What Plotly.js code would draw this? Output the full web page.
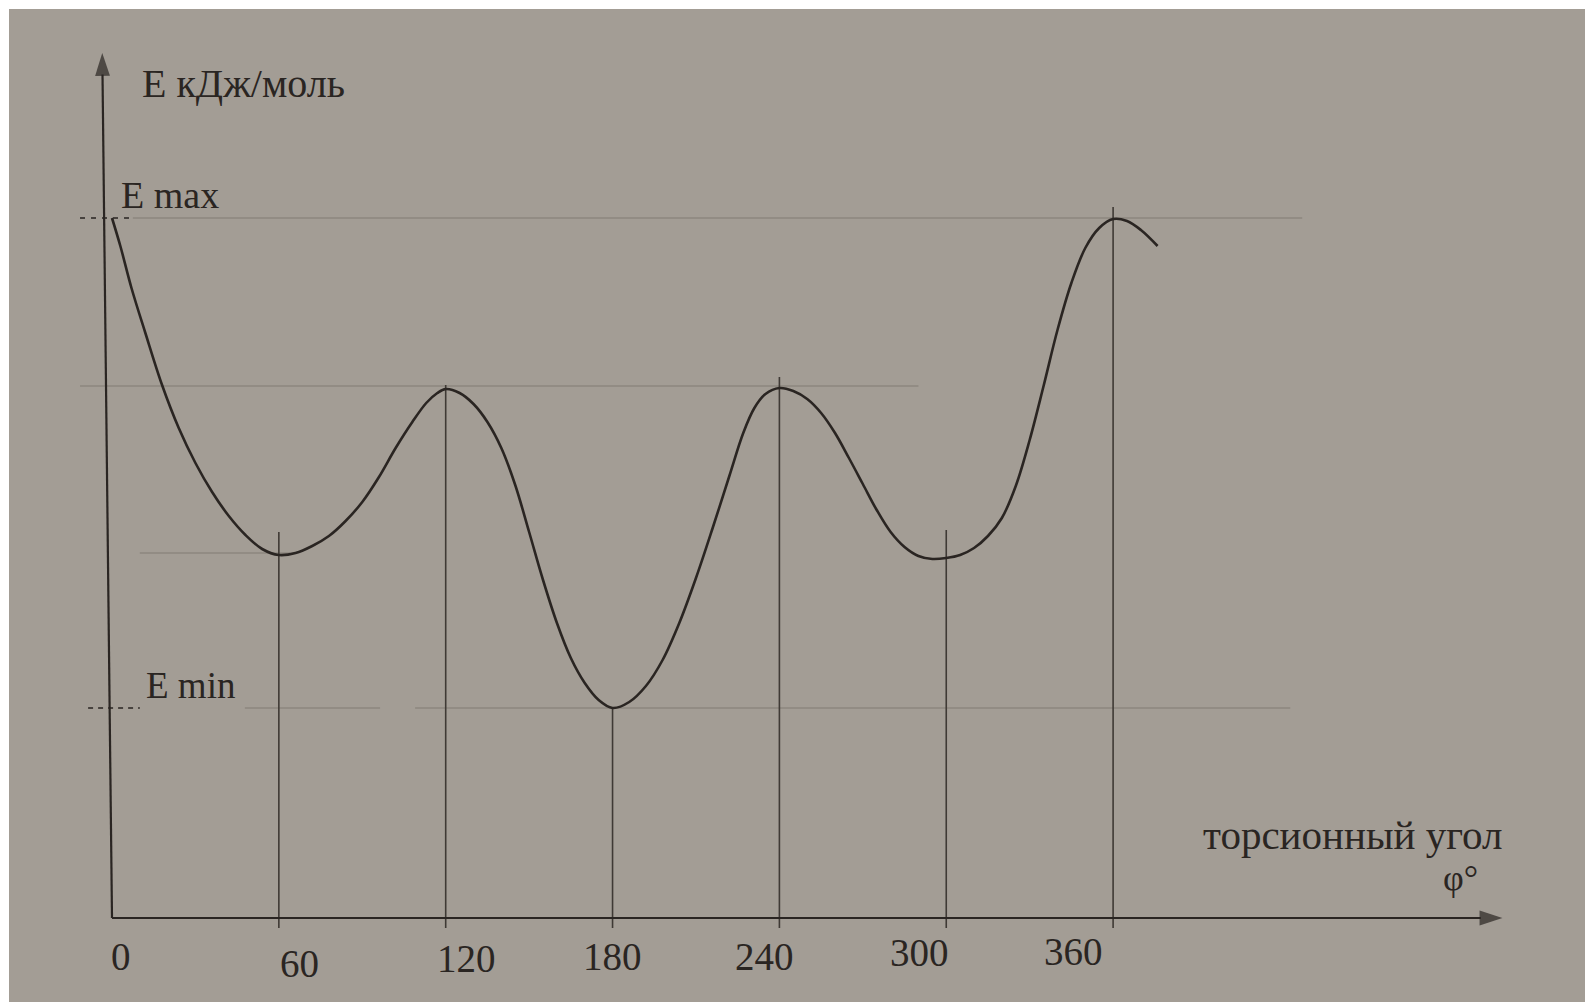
<!DOCTYPE html>
<html>
<head>
<meta charset="utf-8">
<script src="https://cdn.plot.ly/plotly-3.0.1.min.js"></script>
<style>html,body{margin:0;padding:0;background:#fff;}#chart{width:1585px;height:1002px;}</style>
</head>
<body>
<div id="chart"></div>
<script>
// ---- data (energy in arbitrary units) ----
const angleTicks = [0, 60, 120, 180, 240, 300, 360];
const tickLabels = ['0', '60', '120', '180', '240', '300', '360'];

const curveAngle = [0, 3, 7, 12, 18, 24, 30, 36, 42, 48, 54, 60,
  66, 72, 78, 84, 90, 96, 102, 108, 113, 117, 120,
  125, 130, 135, 140, 145, 150, 155, 160, 165, 170, 175, 180,
  186, 192, 198, 204, 210, 216, 222, 227, 231, 235, 240,
  245, 250, 255, 260, 265, 270, 275, 280, 285, 290, 295, 300,
  305, 310, 315, 320, 325, 330, 335, 340, 345, 350, 355, 360, 365, 370, 376];
const curveEnergy = [7.00, 6.72, 6.30, 5.85, 5.33, 4.90, 4.55, 4.26, 4.02, 3.83, 3.69, 3.63,
  3.65, 3.72, 3.82, 3.97, 4.16, 4.41, 4.70, 4.96, 5.15, 5.25, 5.29,
  5.25, 5.14, 4.96, 4.70, 4.33, 3.86, 3.38, 2.95, 2.60, 2.35, 2.18, 2.10,
  2.16, 2.32, 2.58, 2.95, 3.40, 3.90, 4.42, 4.85, 5.10, 5.24, 5.30,
  5.27, 5.19, 5.05, 4.85, 4.60, 4.34, 4.08, 3.86, 3.71, 3.62, 3.59, 3.60,
  3.63, 3.70, 3.82, 4.00, 4.32, 4.78, 5.32, 5.88, 6.35, 6.70, 6.90, 6.99, 6.97, 6.88, 6.72];

const guideAngles = [60, 120, 180, 240, 300, 360];
const guideTops = [3.86, 5.33, 2.10, 5.41, 3.88, 7.11];

const eMax = 7.00, eMin = 2.10, eMidMax = 5.32, eMidMin = 3.65;

// ---- styling ----
const ink = '#2a2522';
const pencil = '#3f3a35';
const faint = 'rgba(110,104,96,0.42)';
const serif = 'Liberation Serif, Times New Roman, serif';

const traces = [];

function hline(x0, x1, y, color, width, dash) {
  traces.push({x: [x0, x1], y: [y, y], mode: 'lines', hoverinfo: 'skip',
    line: {color: color, width: width, dash: dash || 'solid'}, showlegend: false});
}
// faint construction lines
hline(7.5, 428, eMax, faint, 1.3);
hline(-11.5, 290, eMidMax, faint, 1.3);
hline(10, 64, eMidMin, faint, 1.3);
hline(47.8, 96.4, eMin, faint, 1.3);
hline(109, 423.7, eMin, faint, 1.3);
// dashed marks at E max / E min
hline(-11.5, 7.5, eMax, ink, 1.6, '5px,6px');
hline(-8.6, 10, eMin, ink, 1.6, '5px,5px');

// vertical lines from the axis up to the curve extrema
guideAngles.forEach((a, i) => {
  traces.push({x: [a, a], y: [-0.1, guideTops[i]], mode: 'lines', hoverinfo: 'skip',
    line: {color: pencil, width: 1.6}, showlegend: false});
});

// axes with arrowheads
traces.push({x: [0, 500], y: [0, 0], mode: 'lines+markers', hoverinfo: 'skip', showlegend: false,
  line: {color: ink, width: 2.2},
  marker: {symbol: 'arrow', size: [0, 24], angleref: 'previous', color: ink, line: {width: 0}}});
traces.push({x: [0, -3.5], y: [0, 8.65], mode: 'lines+markers', hoverinfo: 'skip', showlegend: false,
  line: {color: ink, width: 2.2},
  marker: {symbol: 'arrow', size: [0, 24], angleref: 'previous', color: ink, line: {width: 0}}});

// energy curve
traces.push({x: curveAngle, y: curveEnergy, mode: 'lines', showlegend: false, hoverinfo: 'skip',
  line: {color: ink, width: 2.6, shape: 'spline', smoothing: 1}});

const tickLabelShift = [[9, 38], [21, 45], [21, 40], [0, 38], [-15, 38], [-27, 34], [-40, 33]];

const annotations = [
  {x: 10.0, y: 8.35, xref: 'x', yref: 'y', text: 'E кДж/моль', showarrow: false,
    xanchor: 'left', yanchor: 'middle', font: {family: serif, size: 40, color: ink}},
  {x: 2.6, y: 7.23, xref: 'x', yref: 'y', text: 'E max', showarrow: false,
    xanchor: 'left', yanchor: 'middle', font: {family: serif, size: 38, color: ink}},
  {x: 11.5, y: 2.33, xref: 'x', yref: 'y', text: 'E min', showarrow: false,
    xanchor: 'left', yanchor: 'middle', font: {family: serif, size: 37, color: ink}},
  {x: 500.6, y: 0.83, xref: 'x', yref: 'y', text: 'торсионный угол', showarrow: false,
    xanchor: 'right', yanchor: 'middle', font: {family: serif, size: 41, color: ink}},
  {x: 492, y: 0.40, xref: 'x', yref: 'y', text: 'φ°', showarrow: false,
    xanchor: 'right', yanchor: 'middle', font: {family: serif, size: 36, color: ink}}
];
angleTicks.forEach((a, i) => {
  annotations.push({x: a, y: 0, xref: 'x', yref: 'y', text: tickLabels[i], showarrow: false,
    xanchor: 'center', yanchor: 'middle', xshift: tickLabelShift[i][0], yshift: -tickLabelShift[i][1],
    font: {family: serif, size: 39, color: ink}});
});

const layout = {
  width: 1585, height: 1002,
  margin: {l: 9, r: 0, t: 9, b: 0},
  paper_bgcolor: '#ffffff',
  plot_bgcolor: '#a39d95',
  showlegend: false,
  xaxis: {range: [-37.04, 529.7], visible: false, fixedrange: true},
  yaxis: {range: [-0.84, 9.09], visible: false, fixedrange: true},
  annotations: annotations
};

Plotly.newPlot('chart', traces, layout, {displayModeBar: false, staticPlot: true});
</script>
</body>
</html>
